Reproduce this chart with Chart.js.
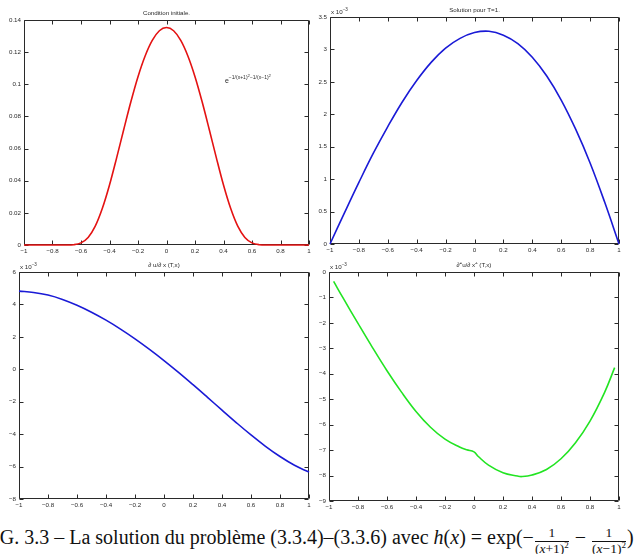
<!DOCTYPE html>
<html>
<head>
<meta charset="utf-8">
<script src="https://cdn.jsdelivr.net/npm/chart.js@4.4.1/dist/chart.umd.min.js"></script>
<style>
  body { margin: 0; width: 638px; height: 554px; background: #fff; position: relative; overflow: hidden; }
  canvas { position: absolute; }
  #caption { position: absolute; left: -18px; top: 524px; font-family: "Liberation Serif", serif; font-size: 20px; white-space: nowrap; color: #111; }
  .frac { display: inline-block; vertical-align: middle; text-align: center; font-size: 13.5px; line-height: 1.05; margin: 0 1px; position: relative; top: 2px; }
  .frac > span { display: block; }
  .frac .num { border-bottom: 1px solid #111; padding: 0 1px 1px; }
  .frac sup { font-size: 9px; line-height: 0; }
</style>
</head>
<body>
<canvas id="tl" width="318" height="262" style="left:0;top:0"></canvas>
<canvas id="tr" width="320" height="262" style="left:318px;top:0"></canvas>
<canvas id="bl" width="318" height="250" style="left:0;top:262px"></canvas>
<canvas id="br" width="320" height="250" style="left:318px;top:262px"></canvas>
<div id="caption">FIG. 3.3 – La solution du problème (3.3.4)–(3.3.6) avec <i>h</i>(<i>x</i>) = exp(−<span class="frac"><span class="num">1</span><span>(<i>x</i>+1)<sup>2</sup></span></span> − <span class="frac"><span class="num">1</span><span>(<i>x</i>−1)<sup>2</sup></span></span>)</div>
<script>
// condition initiale h(x)
var initX = [-1, -0.8, -0.7, -0.65, -0.6, -0.55, -0.5, -0.45, -0.4, -0.35, -0.3, -0.25, -0.2, -0.15, -0.1, -0.05,
             0, 0.05, 0.1, 0.15, 0.2, 0.25, 0.3, 0.35, 0.4, 0.45, 0.5, 0.55, 0.6, 0.65, 0.7, 0.8, 1];
var initY = [0, 0, 0.00001, 0.0002, 0.0013, 0.0047, 0.0117, 0.0228, 0.0373, 0.0542, 0.0719, 0.0891, 0.1047, 0.1176, 0.1273, 0.1333,
             0.1353, 0.1333, 0.1273, 0.1176, 0.1047, 0.0891, 0.0719, 0.0542, 0.0373, 0.0228, 0.0117, 0.0047, 0.0013, 0.0002, 0.00001, 0, 0];

// u(T,x), du/dx (T,x) en unites de 1e-3
var gridX = [-1, -0.9, -0.8, -0.7, -0.6, -0.5, -0.4, -0.3, -0.2, -0.1, 0, 0.1, 0.2, 0.3, 0.4, 0.5, 0.6, 0.7, 0.8, 0.9, 1];
var solY = [0, 0.48, 0.95, 1.40, 1.81, 2.19, 2.52, 2.80, 3.02, 3.17, 3.26, 3.28, 3.22, 3.09, 2.88, 2.59, 2.22, 1.77, 1.25, 0.65, 0];
var dudxY = [4.82, 4.74, 4.58, 4.31, 3.95, 3.52, 3.03, 2.48, 1.88, 1.23, 0.54, -0.19, -0.95, -1.73, -2.52, -3.30, -4.05, -4.75, -5.38, -5.92, -6.34];

// d2u/dx2 (T,x) en unites de 1e-3
var d2X = [-0.968, -0.9, -0.8, -0.7, -0.6, -0.5, -0.4, -0.3, -0.2, -0.1, -0.05, 0, 0.03, 0.1, 0.2, 0.3, 0.33, 0.4, 0.5, 0.6, 0.7, 0.8, 0.9, 0.97];
var d2Y = [-0.37, -1.05, -2.02, -2.97, -3.88, -4.72, -5.48, -6.10, -6.57, -6.88, -6.99, -7.07, -7.25, -7.59, -7.89, -8.02, -8.04, -7.98, -7.76, -7.34, -6.71, -5.86, -4.74, -3.76];

// ticks
var xTicks = [-1, -0.8, -0.6, -0.4, -0.2, 0, 0.2, 0.4, 0.6, 0.8, 1];
var initTicks = [0, 0.02, 0.04, 0.06, 0.08, 0.1, 0.12, 0.14];
var solTicks = [0, 0.5, 1, 1.5, 2, 2.5, 3, 3.5];
var dudxTicks = [-8, -6, -4, -2, 0, 2, 4, 6];
var d2Ticks = [-9, -8, -7, -6, -5, -4, -3, -2, -1, 0];

var FONT = '"Liberation Sans", Arial, sans-serif';
var INK = '#2a2a2a';

function fmt(v) {
    return String(v).replace('-', '\u2212');
}

// texte avec exposants : runs = [[texte, niveau], ...]
function richText(ctx, runs, x, y, align, base) {
    var sizes = [base, base * 0.72, base * 0.6];
    var rises = [0, base * 0.5, base * 0.85];
    var w = 0;
    runs.forEach(function (r) {
        ctx.font = sizes[r[1]] + 'px ' + FONT;
        w += ctx.measureText(r[0]).width;
    });
    var cx = align === 'center' ? x - w / 2 : x;
    ctx.textAlign = 'left';
    ctx.textBaseline = 'alphabetic';
    runs.forEach(function (r) {
        ctx.font = sizes[r[1]] + 'px ' + FONT;
        ctx.fillText(r[0], cx, y - rises[r[1]]);
        cx += ctx.measureText(r[0]).width;
    });
}

var matlabBox = {
    id: 'matlabBox',
    beforeDatasetsDraw: function (chart, args, opts) {
        var ctx = chart.ctx, a = chart.chartArea;
        var sx = chart.scales.x, sy = chart.scales.y;
        var L = Math.round(a.left) + 0.5, R = Math.round(a.right) - 0.5;
        var T = Math.round(a.top) + 0.5, B = Math.round(a.bottom) - 0.5;
        ctx.save();
        ctx.strokeStyle = INK;
        ctx.lineWidth = 1;
        ctx.beginPath();
        ctx.rect(L, T, R - L, B - T);
        sx.ticks.forEach(function (t) {
            var px = Math.round(sx.getPixelForValue(t.value)) + 0.5;
            ctx.moveTo(px, B); ctx.lineTo(px, B - 4);
            ctx.moveTo(px, T); ctx.lineTo(px, T + 4);
        });
        sy.ticks.forEach(function (t) {
            var py = Math.round(sy.getPixelForValue(t.value)) + 0.5;
            ctx.moveTo(L, py); ctx.lineTo(L + 4, py);
            ctx.moveTo(R, py); ctx.lineTo(R - 4, py);
        });
        ctx.stroke();

        ctx.fillStyle = INK;
        richText(ctx, opts.title, (a.left + a.right) / 2, a.top - 5, 'center', 6.2);
        if (opts.exponent) {
            richText(ctx, [['x 10', 0], ['\u22123', 1]], a.left + 1, a.top - 3, 'left', 6.2);
        }
        if (opts.note) {
            richText(ctx, opts.note.runs, sx.getPixelForValue(opts.note.x), sy.getPixelForValue(opts.note.y), 'left', 7);
        }
        ctx.restore();
    }
};

function makePanel(id, box, area, xs, ys, yTicks, color, smooth, deco) {
    var pts = xs.map(function (x, i) { return { x: x, y: ys[i] }; });
    var tickFont = { family: FONT, size: 6.2 };
    new Chart(document.getElementById(id), {
        type: 'line',
        data: {
            datasets: [{
                data: pts,
                borderColor: color,
                borderWidth: 1.6,
                pointRadius: 0,
                fill: false,
                cubicInterpolationMode: smooth,
                tension: 0.4,
                clip: false
            }]
        },
        options: {
            responsive: false,
            animation: false,
            devicePixelRatio: 1,
            layout: {
                padding: {
                    left: 0,
                    top: area.t - box.y,
                    right: box.x + box.w - area.r,
                    bottom: box.y + box.h - area.b - 12
                }
            },
            plugins: {
                legend: { display: false },
                tooltip: { enabled: false },
                matlabBox: deco
            },
            scales: {
                x: {
                    type: 'linear',
                    min: -1,
                    max: 1,
                    afterBuildTicks: function (s) { s.ticks = xTicks.map(function (v) { return { value: v }; }); },
                    afterFit: function (s) { s.height = 12; },
                    grid: { display: false, drawTicks: false },
                    border: { display: false },
                    ticks: { padding: 3, font: tickFont, color: INK, callback: fmt, maxRotation: 0, autoSkip: false }
                },
                y: {
                    type: 'linear',
                    min: yTicks[0],
                    max: yTicks[yTicks.length - 1],
                    afterBuildTicks: function (s) { s.ticks = yTicks.map(function (v) { return { value: v }; }); },
                    afterFit: function (s) { s.width = area.l - box.x; },
                    grid: { display: false, drawTicks: false },
                    border: { display: false },
                    ticks: { padding: 3, font: tickFont, color: INK, callback: fmt, autoSkip: false }
                }
            }
        },
        plugins: [matlabBox]
    });
}

makePanel('tl', { x: 0, y: 0, w: 318, h: 262 }, { l: 24, t: 20, r: 309, b: 245 },
    initX, initY, initTicks, 'rgb(228,18,18)', 'monotone',
    { title: [['Condition initiale.', 0]], exponent: false,
      note: { x: 0.41, y: 0.101, runs: [['e', 0], ['\u22121/(x+1)', 1], ['2', 2], ['\u22121/(x\u22121)', 1], ['2', 2]] } });

makePanel('tr', { x: 318, y: 0, w: 320, h: 262 }, { l: 330, t: 17, r: 619, b: 244 },
    gridX, solY, solTicks, 'rgb(26,26,214)', 'default',
    { title: [['Solution pour T=1.', 0]], exponent: true });

makePanel('bl', { x: 0, y: 262, w: 318, h: 250 }, { l: 19, t: 272, r: 309, b: 499 },
    gridX, dudxY, dudxTicks, 'rgb(26,26,214)', 'default',
    { title: [['\u2202 u/\u2202 x (T,x)', 0]], exponent: true });

makePanel('br', { x: 318, y: 262, w: 320, h: 250 }, { l: 329, t: 272, r: 619, b: 501 },
    d2X, d2Y, d2Ticks, 'rgb(34,228,34)', 'default',
    { title: [['\u2202', 0], ['2', 1], ['u/\u2202 x', 0], ['2', 1], [' (T,x)', 0]], exponent: true });
</script>
</body>
</html>
